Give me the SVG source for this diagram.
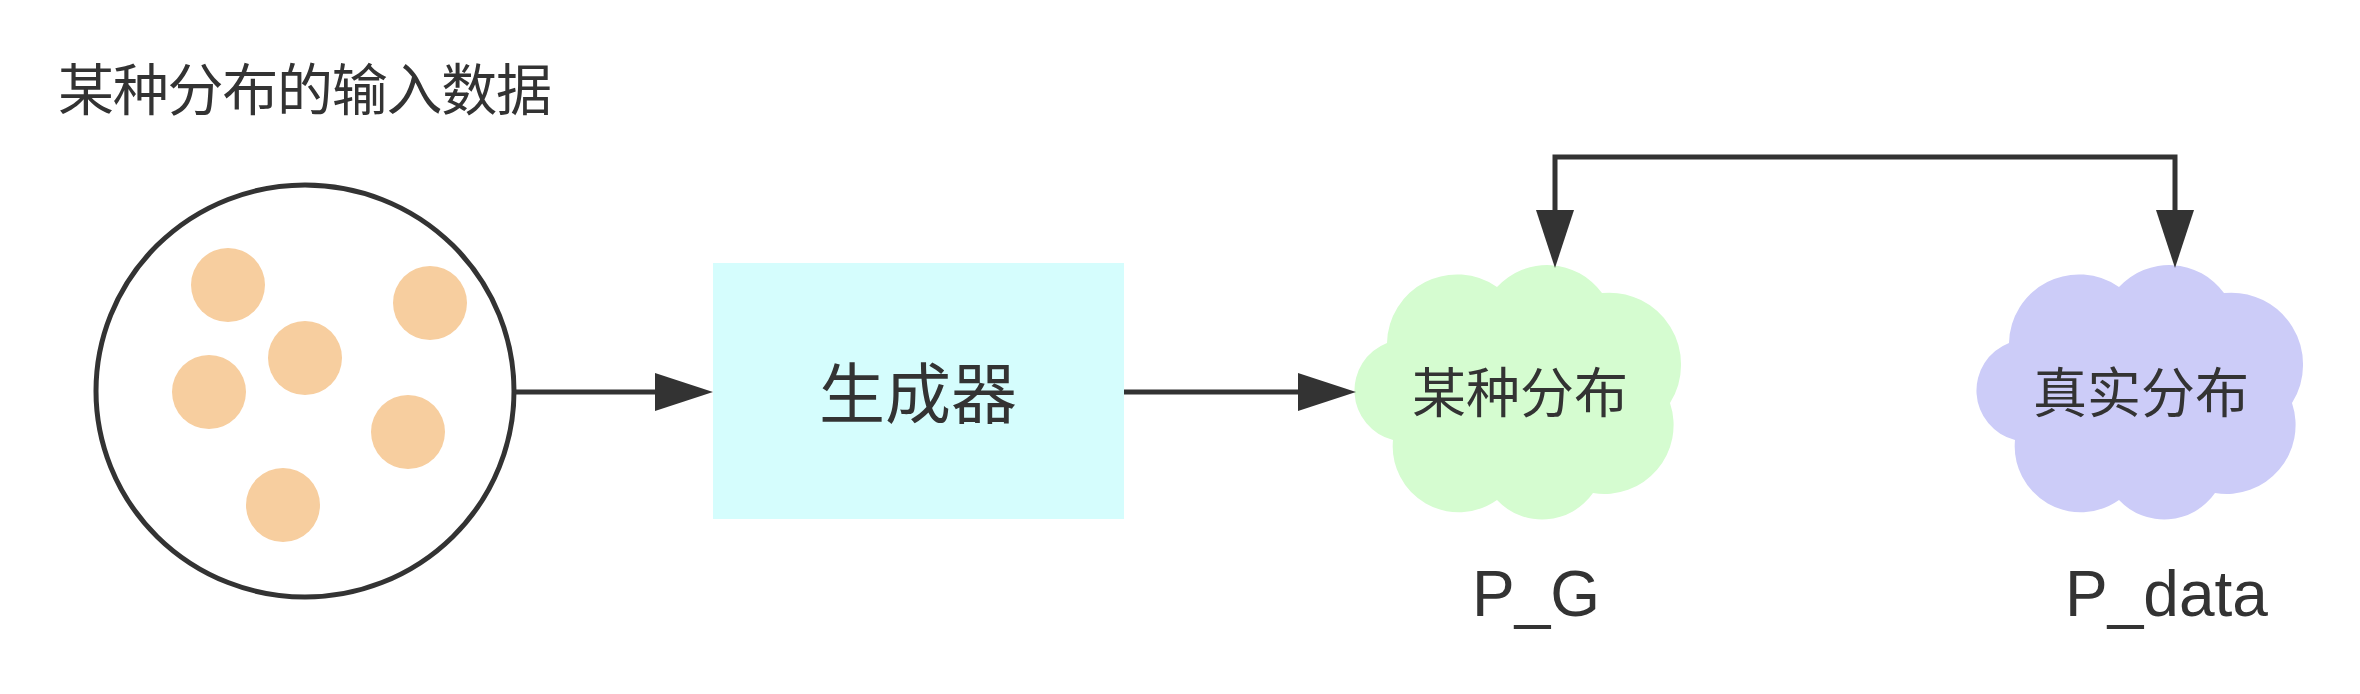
<svg xmlns="http://www.w3.org/2000/svg" width="2360" height="694" viewBox="0 0 2360 694">
  <defs>
    <style>
      .lbl { font-family: "Noto Sans CJK SC", "Liberation Sans", sans-serif; fill: #333333; }
      .lat { font-family: "Liberation Sans", Arial, sans-serif; fill: #333333; }
      .edge { fill: none; stroke: #333333; stroke-width: 5; stroke-linejoin: miter; }
      .dot { fill: #F7CE9F; }
    </style>
    <marker id="arr" markerUnits="userSpaceOnUse" viewBox="0 0 58 38" markerWidth="58" markerHeight="38" refX="0" refY="19" orient="auto-start-reverse">
      <path d="M0,0 L58,19 L0,38 Z" fill="#333333"/>
    </marker>
    <path id="cloud" d="M142,20 A68,68 0 0 1 247,26 A72,72 0 0 1 315,136 A69,69 0 0 1 238,226 A62,62 0 0 1 142,233 A66,66 0 0 1 38,173 A51,51 0 0 1 32,76 A70,70 0 0 1 142,20 Z"/>
  </defs>
  <rect width="2360" height="694" fill="#FFFFFF"/>

  <g id="title">
    <text class="lbl" x="58" y="110" font-size="56" textLength="494" lengthAdjust="spacing">某种分布的输入数据</text>
  </g>

  <g id="input-data">
    <ellipse cx="305" cy="391" rx="209" ry="206" fill="#FFFFFF" stroke="#333333" stroke-width="5"/>
    <circle class="dot" cx="228" cy="285" r="37"/>
    <circle class="dot" cx="430" cy="303" r="37"/>
    <circle class="dot" cx="305" cy="358" r="37"/>
    <circle class="dot" cx="209" cy="392" r="37"/>
    <circle class="dot" cx="408" cy="432" r="37"/>
    <circle class="dot" cx="283" cy="505" r="37"/>
  </g>

  <g id="generator">
    <rect x="713" y="263" width="411" height="256" fill="#D5FDFD"/>
    <text class="lbl" x="918" y="418" font-size="66" text-anchor="middle">生成器</text>
  </g>

  <g id="pg-cloud">
    <use href="#cloud" x="1355" y="267" fill="#D5FCD0"/>
    <text class="lbl" x="1520" y="413" font-size="54" text-anchor="middle">某种分布</text>
  </g>

  <g id="pdata-cloud">
    <use href="#cloud" x="1977" y="267" fill="#CCCCF8"/>
    <text class="lbl" x="2141" y="413" font-size="54" text-anchor="middle">真实分布</text>
  </g>

  <g id="pg-label">
    <text class="lat" x="1472" y="616" font-size="64">P_G</text>
  </g>
  <g id="pdata-label">
    <text class="lat" x="2065" y="616" font-size="64">P_data</text>
  </g>

  <g id="connectors">
    <path class="edge" d="M515,392 H655" marker-end="url(#arr)"/>
    <path class="edge" d="M1124,392 H1298" marker-end="url(#arr)"/>
    <path class="edge" d="M1555,210 V157 H2175 V210" marker-start="url(#arr)" marker-end="url(#arr)"/>
  </g>
</svg>
